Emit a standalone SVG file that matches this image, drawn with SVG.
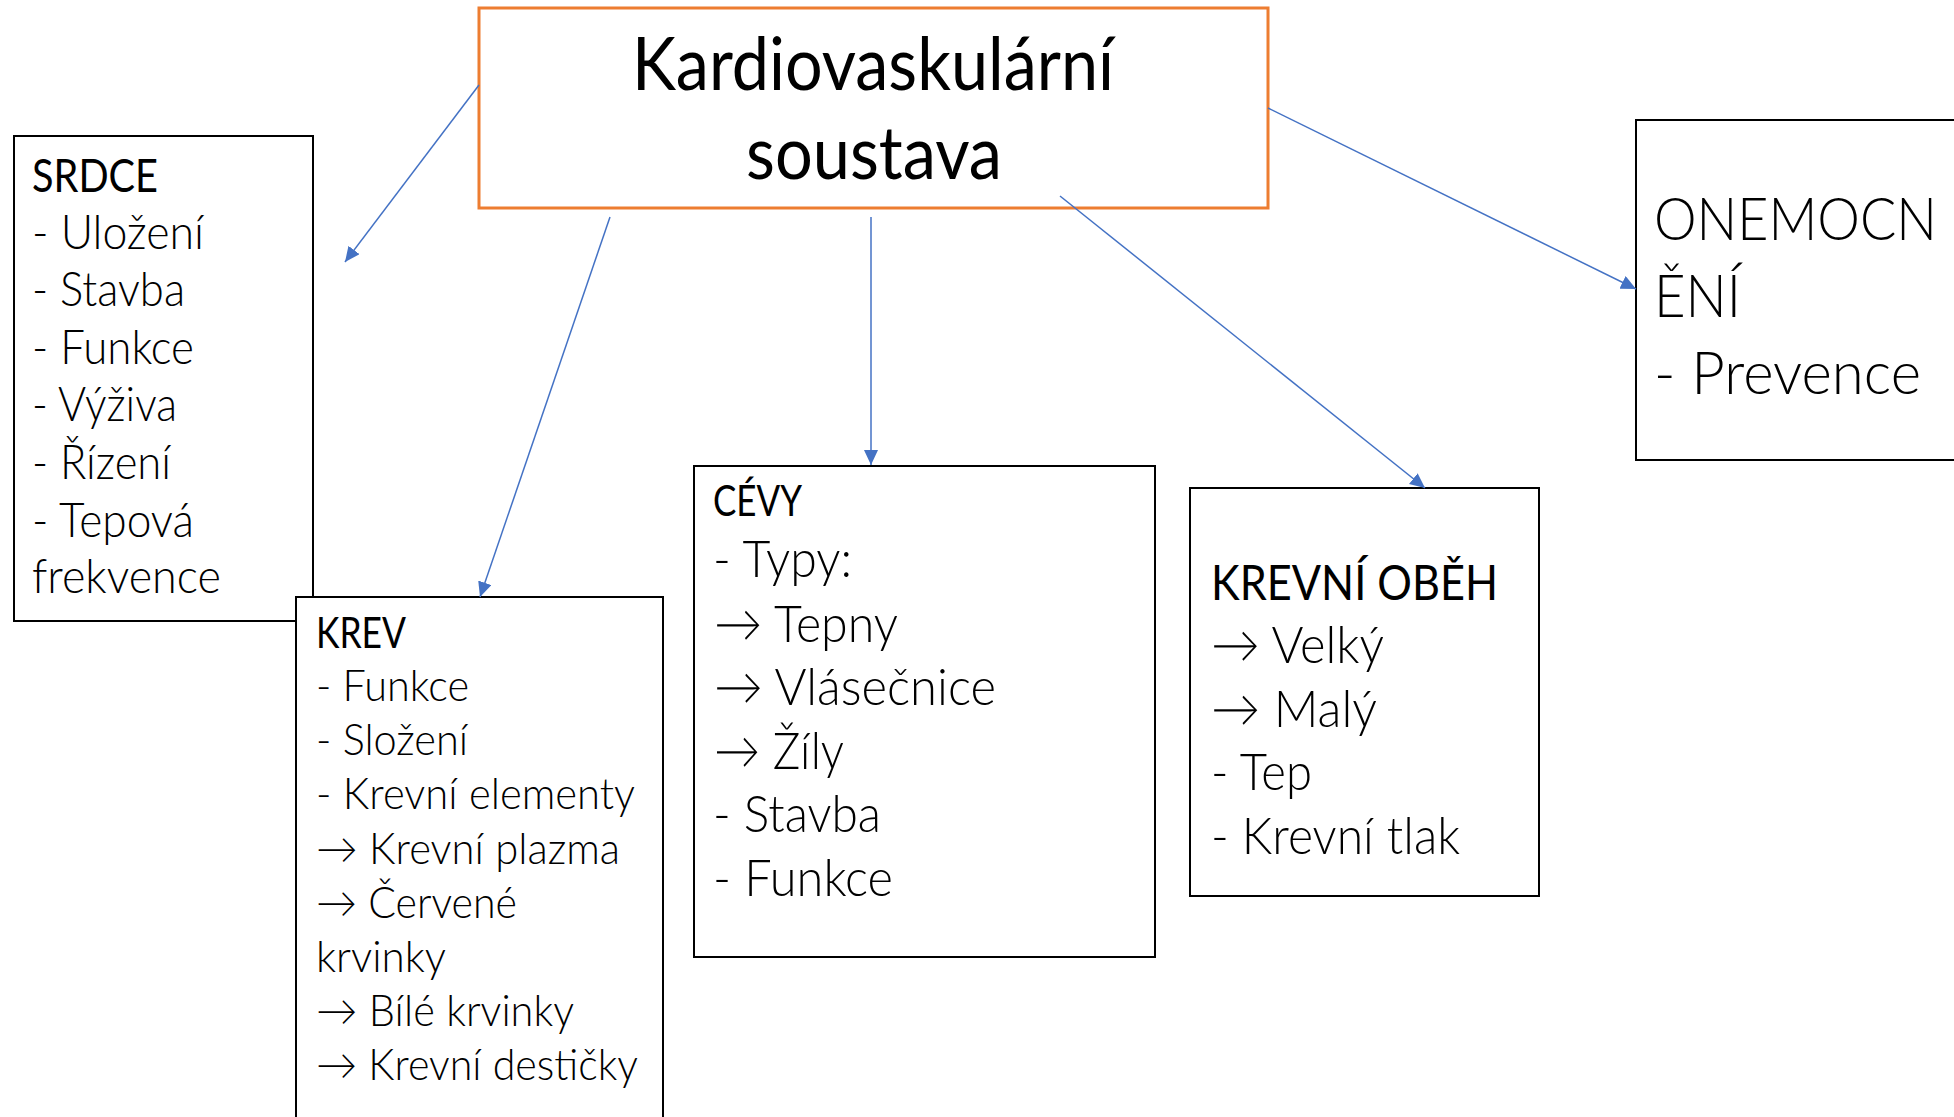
<svg xmlns="http://www.w3.org/2000/svg" width="1954" height="1117" viewBox="0 0 1954 1117">
<style>
.box{fill:#fff;stroke:#000;stroke-width:2}
.main{fill:#fff;stroke:#ED7D31;stroke-width:3}
text{font-family:Lato,"Open Sans","Liberation Sans",sans-serif;fill:#000}
.l{font-weight:300}
.r{font-weight:400}
.c{stroke:#4472C4;stroke-width:1.5;fill:none;marker-end:url(#ah)}
</style>
<defs>
<marker id="ah" markerUnits="userSpaceOnUse" markerWidth="16" markerHeight="14" refX="15" refY="7" orient="auto"><path d="M0,0 L15,7 L0,14 z" fill="#4472C4"/></marker>
</defs>
<rect width="1954" height="1117" fill="#fff"/>
<g id="srdce" font-size="47" lengthAdjust="spacingAndGlyphs">
<rect class="box" x="14" y="136" width="299" height="485"/>
<text class="r" x="32" y="191.5" textLength="126" lengthAdjust="spacingAndGlyphs">SRDCE</text>
<text class="l" x="32" y="249" textLength="172" lengthAdjust="spacingAndGlyphs">- Uložení</text>
<text class="l" x="32" y="306" textLength="153" lengthAdjust="spacingAndGlyphs">- Stavba</text>
<text class="l" x="32" y="363.5" textLength="162" lengthAdjust="spacingAndGlyphs">- Funkce</text>
<text class="l" x="32" y="421" textLength="145" lengthAdjust="spacingAndGlyphs">- Výživa</text>
<text class="l" x="32" y="478.5" textLength="139" lengthAdjust="spacingAndGlyphs">- Řízení</text>
<text class="l" x="32" y="536.5" textLength="162" lengthAdjust="spacingAndGlyphs">- Tepová</text>
<text class="l" x="32" y="592.5" textLength="189" lengthAdjust="spacingAndGlyphs">frekvence</text>
</g>
<g id="krev" font-size="43">
<rect class="box" x="296" y="597" width="367" height="540"/>
<text class="r" x="316" y="647.5" textLength="90" lengthAdjust="spacingAndGlyphs">KREV</text>
<text class="l" x="316" y="700.5" textLength="153" lengthAdjust="spacingAndGlyphs">- Funkce</text>
<text class="l" x="316" y="755" textLength="152" lengthAdjust="spacingAndGlyphs">- Složení</text>
<text class="l" x="316" y="809" textLength="319" lengthAdjust="spacingAndGlyphs">- Krevní elementy</text>
<text class="l" x="316" y="863.5" textLength="304" lengthAdjust="spacingAndGlyphs">→ Krevní plazma</text>
<text class="l" x="316" y="917.5" textLength="201" lengthAdjust="spacingAndGlyphs">→ Červené</text>
<text class="l" x="316" y="971.5" textLength="130" lengthAdjust="spacingAndGlyphs">krvinky</text>
<text class="l" x="316" y="1026" textLength="258" lengthAdjust="spacingAndGlyphs">→ Bílé krvinky</text>
<text class="l" x="316" y="1079.5" textLength="322" lengthAdjust="spacingAndGlyphs">→ Krevní destičky</text>
</g>
<g id="cevy">
<rect class="box" x="694" y="466" width="461" height="491"/>
<text class="r" font-size="43" x="713" y="516" textLength="89" lengthAdjust="spacingAndGlyphs">CÉVY</text>
<text class="l" font-size="52" x="713" y="576.5" textLength="139" lengthAdjust="spacingAndGlyphs">- Typy:</text>
<text class="l" font-size="52" x="714" y="641.5" textLength="184" lengthAdjust="spacingAndGlyphs">→ Tepny</text>
<text class="l" font-size="52" x="714" y="705" textLength="282" lengthAdjust="spacingAndGlyphs">→ Vlásečnice</text>
<text class="l" font-size="52" x="714" y="768.5" textLength="130" lengthAdjust="spacingAndGlyphs">→ Žíly</text>
<text class="l" font-size="52" x="713" y="832" textLength="168" lengthAdjust="spacingAndGlyphs">- Stavba</text>
<text class="l" font-size="52" x="713" y="896" textLength="180" lengthAdjust="spacingAndGlyphs">- Funkce</text>
</g>
<g id="krevni-obeh">
<rect class="box" x="1190" y="488" width="349" height="408"/>
<text class="r" font-size="49" x="1211" y="600" textLength="287" lengthAdjust="spacingAndGlyphs">KREVNÍ OBĚH</text>
<text class="l" font-size="52" x="1211" y="662.5" textLength="173" lengthAdjust="spacingAndGlyphs">→ Velký</text>
<text class="l" font-size="52" x="1211" y="726.5" textLength="166" lengthAdjust="spacingAndGlyphs">→ Malý</text>
<text class="l" font-size="52" x="1211" y="790" textLength="101" lengthAdjust="spacingAndGlyphs">- Tep</text>
<text class="l" font-size="52" x="1211" y="854" textLength="249" lengthAdjust="spacingAndGlyphs">- Krevní tlak</text>
</g>
<g id="onemocneni">
<rect class="box" x="1636" y="120" width="330" height="340"/>
<text class="l" font-size="60" x="1654" y="240" textLength="283" lengthAdjust="spacingAndGlyphs">ONEMOCN</text>
<text class="l" font-size="60" x="1654" y="316.5" textLength="87" lengthAdjust="spacingAndGlyphs">ĚNÍ</text>
<text class="l" font-size="60" x="1654" y="393.5" textLength="267" lengthAdjust="spacingAndGlyphs">- Prevence</text>
</g>
<g id="main">
<rect class="main" x="479" y="8" width="789" height="200"/>
<text class="r" font-size="74" text-anchor="middle" x="873" y="89.5" textLength="482" lengthAdjust="spacingAndGlyphs">Kardiovaskulární</text>
<text class="r" font-size="74" text-anchor="middle" x="874" y="178.5" textLength="256" lengthAdjust="spacingAndGlyphs">soustava</text>
</g>
<g id="connectors">
<line class="c" x1="479" y1="85" x2="345" y2="262"/>
<line class="c" x1="610" y1="217" x2="480" y2="597"/>
<line class="c" x1="871" y1="217" x2="871" y2="465"/>
<line class="c" x1="1060" y1="196" x2="1425" y2="488"/>
<line class="c" x1="1268" y1="108" x2="1636" y2="289"/>
</g>
</svg>
